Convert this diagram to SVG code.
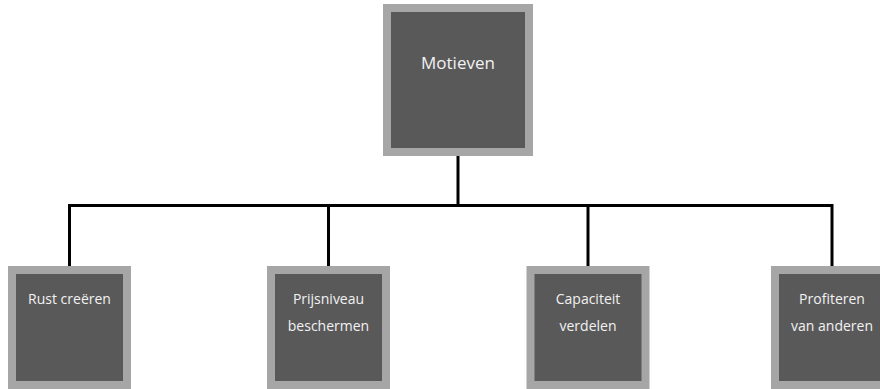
<svg xmlns="http://www.w3.org/2000/svg" width="880" height="389" viewBox="0 0 880 389">
<style>
.box{fill:#595959;stroke:#a6a6a6;stroke-width:8}
.t{font-family:"Open Sans","Liberation Sans",sans-serif;fill:#f2f2f2;text-anchor:middle;font-size:14px}
.tt{font-size:17px}
.c{stroke:#000;stroke-width:3;fill:none}
</style>
<rect width="880" height="389" fill="#fff"/>
<g id="connectors">
<path class="c" d="M458 156V205.5M68 205.5H833.5M69.5 205.5V266M328.5 205.5V266M588 205.5V266M832 205.5V266"/>
</g>
<g id="motieven">
<rect class="box" x="387" y="8" width="142" height="144"/>
<text class="t tt" x="458" y="69">Motieven</text>
</g>
<g id="rust">
<rect class="box" x="12" y="270" width="115" height="115"/>
<text class="t" x="69.5" y="304">Rust creëren</text>
</g>
<g id="prijsniveau">
<rect class="box" x="271" y="270" width="115" height="115"/>
<text class="t" x="328.5" y="304">Prijsniveau</text>
<text class="t" x="328.5" y="331">beschermen</text>
</g>
<g id="capaciteit">
<rect class="box" x="530.5" y="270" width="115" height="115"/>
<text class="t" x="588" y="304">Capaciteit</text>
<text class="t" x="588" y="331">verdelen</text>
</g>
<g id="profiteren">
<rect class="box" x="775" y="270" width="115" height="115"/>
<text class="t" x="832" y="304">Profiteren</text>
<text class="t" x="832" y="331">van anderen</text>
</g>
</svg>
